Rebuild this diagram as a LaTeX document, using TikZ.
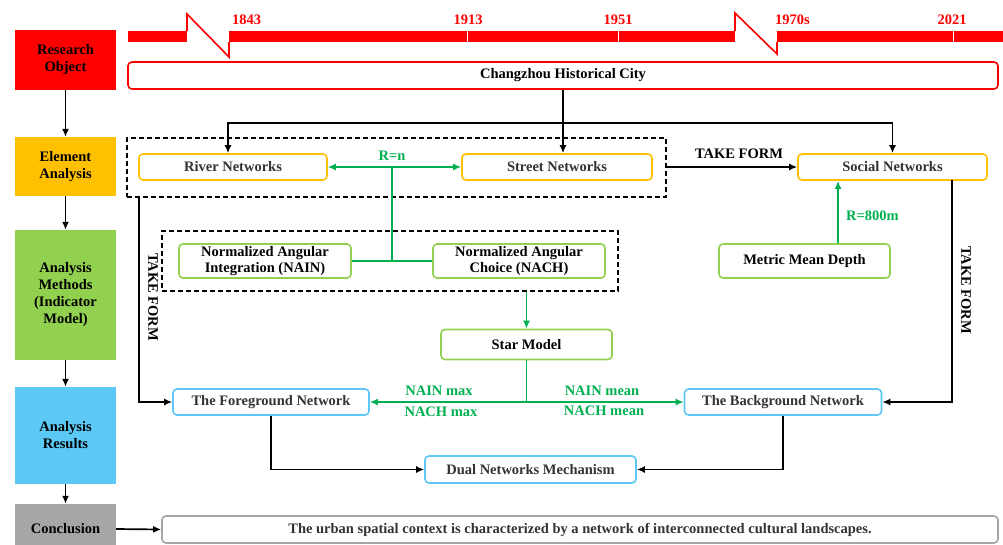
\documentclass[tikz,border=0pt]{standalone}
\usepackage{fontspec}
\setmainfont{Liberation Serif}
\usetikzlibrary{arrows.meta}
\definecolor{tred}{HTML}{FF0000}
\definecolor{torange}{HTML}{FFC000}
\definecolor{tgreen}{HTML}{92D050}
\definecolor{tblue}{HTML}{5BC8F5}
\definecolor{tgray}{HTML}{A6A6A6}
\definecolor{agreen}{HTML}{00B050}
\definecolor{txt}{HTML}{333333}
\begin{document}
\begin{tikzpicture}[x=1pt,y=-1pt,
  every node/.style={font=\fontsize{14.5}{17}\selectfont\bfseries, inner sep=0pt},
  side/.style={minimum width=101pt, align=center, text=black},
  rbox/.style={draw, rounded corners=4pt, line width=1.6pt, fill=white, text=txt},
  obox/.style={rbox, draw=torange},
  gbox/.style={rbox, draw=tgreen, align=center, font=\fontsize{14.5}{16}\selectfont\bfseries},
  bbox/.style={rbox, draw=tblue},
  dbox/.style={draw, dashed, dash pattern=on 5pt off 3pt, line width=1.7pt},
  arr/.style={line width=1.7pt, -{Latex[length=8pt,width=7pt]}},
  garr/.style={line width=1.7pt, draw=agreen, -{Latex[length=8pt,width=7pt]}},
  gline/.style={line width=1.7pt, draw=agreen},
  glab/.style={text=agreen},
  year/.style={text=tred, font=\fontsize{14.5}{17}\selectfont\bfseries},
  tf/.style={text=black}]
\useasboundingbox (0,0) rectangle (1003,544);
% timeline
\fill[tred] (128,31) rectangle (187,42);
\fill[tred] (229,31) rectangle (735,42);
\fill[tred] (777,31) rectangle (1003,42);
\draw[white, line width=1.3pt] (467.5,30) -- (467.5,43) (618.5,30) -- (618.5,43) (953.5,30) -- (953.5,43);
\draw[tred, line width=1.6pt, line join=miter] (187,31) -- (187,14) -- (229,57) -- (229,42);
\draw[tred, line width=1.6pt, line join=miter] (735,31) -- (735,13) -- (777,54) -- (777,42);
\node[year, anchor=west] (y1) at (232,20) {1843};
\node[year] (y2) at (468,20) {1913};
\node[year] (y3) at (618,20) {1951};
\node[year, anchor=west] (y4) at (775,20) {1970s};
\node[year] (y5) at (952,20) {2021};
% left column
\node[side, fill=tred, minimum height=60pt] (ro) at (65.5,60) {Research\\Object};
\node[side, fill=torange, minimum height=59pt] (ea) at (65.5,166.5) {Element\\Analysis};
\node[side, fill=tgreen, minimum height=130pt] (am) at (65.5,295) {Analysis\\Methods\\(Indicator\\Model)};
\node[side, fill=tblue, minimum height=97pt] (ar) at (65.5,435.5) {Analysis\\Results};
\node[side, fill=tgray, minimum height=50pt] (cc) at (65.5,529) {Conclusion};
\draw[arr] (ro) -- (ea);
\draw[arr] (ea) -- (am);
\draw[arr] (am) -- (ar);
\draw[arr] (ar) -- (cc);
% dashed groups
\node[dbox, minimum width=539pt, minimum height=59pt] (d1) at (396.5,167.5) {};
\node[dbox, minimum width=456pt, minimum height=60pt] (d2) at (390,261) {};
% main boxes
\node[rbox, draw=tred, minimum width=870pt, minimum height=27pt, text=black] (ch) at (563,75.5) {Changzhou Historical City};
\node[obox, minimum width=188pt, minimum height=26pt] (river) at (233,167) {River Networks};
\node[obox, minimum width=190pt, minimum height=26pt] (street) at (557,167) {Street Networks};
\node[obox, minimum width=189pt, minimum height=26pt] (social) at (892.5,167) {Social Networks};
\node[gbox, minimum width=172pt, minimum height=34pt, text=black] (nain) at (265,261) {Normalized Angular\\Integration (NAIN)};
\node[gbox, minimum width=172pt, minimum height=34pt, text=black] (nach) at (519,261) {Normalized Angular\\Choice (NACH)};
\node[gbox, minimum width=171pt, minimum height=34pt, text=black] (mmd) at (804.5,261) {Metric Mean Depth};
\node[gbox, minimum width=171pt, minimum height=30pt, text=black] (star) at (526.5,344.5) {Star Model};
\node[bbox, minimum width=196pt, minimum height=26pt] (fg) at (271,402) {The Foreground Network};
\node[bbox, minimum width=197pt, minimum height=26pt] (bg) at (783,402) {The Background Network};
\node[bbox, minimum width=211pt, minimum height=27pt] (dual) at (530.5,469.5) {Dual Networks Mechanism};
\node[rbox, draw=tgray, minimum width=836pt, minimum height=27pt] (concl) at (580,529.5) {The urban spatial context is characterized by a network of interconnected cultural landscapes.};
% connectors
\draw[arr] (cc.east) -- (concl.west);
\coordinate (top) at (563,123);
\draw[arr] (ch.south) -- (ch.south |- street.north);
\draw[arr] (top) -| ([xshift=-5pt]river.north);
\draw[arr] (top) -| (social.north);
\draw[garr, {Latex[length=8pt,width=7pt]}-{Latex[length=8pt,width=7pt]}] (river.east) -- (street.west);
\coordinate (rn) at (392,167);
\draw[gline] (rn) -- (rn |- nain.east);
\draw[gline] (nain.east) -- (nach.west);
\node[glab] (rnl) at (392,156) {R=n};
\draw[arr] (d1.east |- street.east) -- (social.west);
\node[tf] (tf1) at (739,154) {TAKE FORM};
\draw[garr] ([xshift=33.5pt]mmd.north) -- ([xshift=33.5pt]mmd.north |- social.south);
\node[glab, anchor=west] (r800) at (846,216) {R=800m};
\draw[garr] (star.north |- d2.south) -- (star.north);
\coordinate (sj) at (star.south |- fg.east);
\draw[gline] (star.south) -- (sj);
\draw[garr] (sj) -- (fg.east);
\draw[garr] (sj) -- (bg.west);
\node[glab] (l1) at (439,391) {NAIN max};
\node[glab] (l2) at (441,412) {NACH max};
\node[glab] (l3) at (602,391) {NAIN mean};
\node[glab] (l4) at (604,411) {NACH mean};
\coordinate (lt) at (139,197);
\draw[arr] (lt) |- (fg.west);
\node[tf, rotate=-90] (tf2) at (153,297) {TAKE FORM};
\coordinate (rt) at (952,180);
\draw[arr] (rt) |- (bg.east);
\node[tf, rotate=-90] (tf3) at (966,290) {TAKE FORM};
\draw[arr] (fg.south) |- (dual.west);
\draw[arr] (bg.south) |- (dual.east);
\end{tikzpicture}
\end{document}
